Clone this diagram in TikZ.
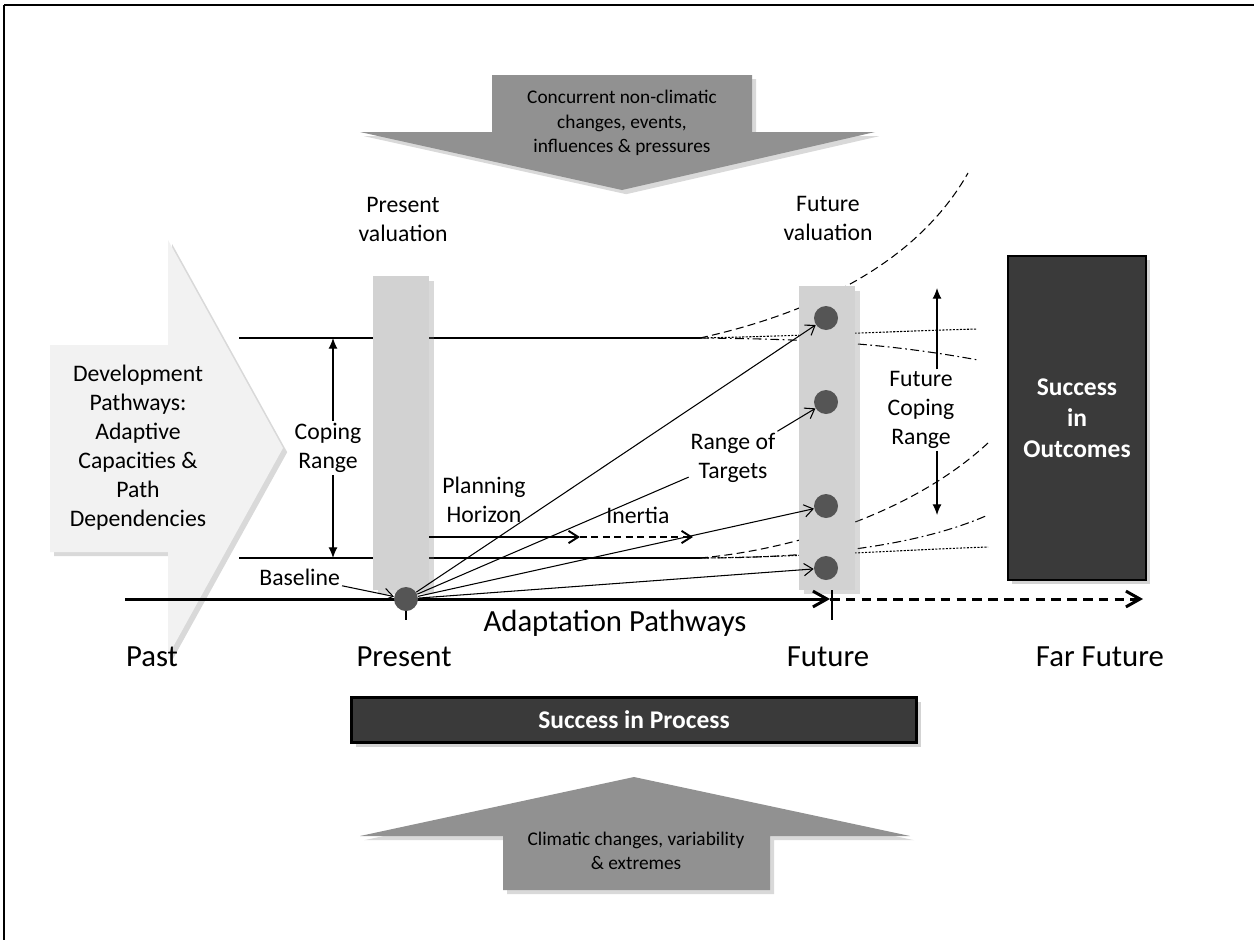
\documentclass[tikz,border=0pt]{standalone}
\usepackage{fontspec}
\setmainfont{Carlito}
\usepackage{tikz}
\usetikzlibrary{arrows.meta,positioning,shadows}

\definecolor{pastfill}{RGB}{242,242,242}
\definecolor{barfill}{RGB}{210,210,210}
\definecolor{blockfill}{RGB}{145,145,145}
\definecolor{dotfill}{RGB}{85,85,85}
\definecolor{boxfill}{RGB}{58,58,58}

\begin{document}
\begin{tikzpicture}[
    x=0.02cm, y=-0.02cm,
    lbl/.style={align=center, inner sep=1pt, font=\fontsize{13.5}{16.5}\selectfont},
    axislbl/.style={inner sep=1pt, font=\fontsize{17.5}{21}\selectfont},
    blocklbl/.style={align=center, inner sep=1pt, font=\fontsize{11}{14}\selectfont},
    darkbox/.style={draw=black, line width=1.6pt, fill=boxfill, text=white, align=center, font=\bfseries\fontsize{14.5}{17.5}\selectfont, drop shadow={opacity=0.35}},
    valbar/.style={rectangle, fill=barfill, inner sep=0pt, anchor=north west, minimum width=1.12cm, drop shadow={opacity=0.3}},
    target/.style={circle, fill=dotfill, inner sep=0pt, minimum size=0.48cm},
    blockarrow/.style={fill=blockfill, drop shadow={opacity=0.3}},
    thinarrow/.style={-{Straight Barb[length=5pt,width=7pt]}, line width=0.6pt},
    rangearrow/.style={-{Latex[length=6pt,width=5pt]}, line width=0.6pt},
    timearrow/.style={-{Straight Barb[length=8pt,width=9pt]}, line width=1.7pt},
    planarrow/.style={-{Straight Barb[length=5.5pt,width=7pt]}, line width=1.1pt},
    trend/.style={line width=0.6pt, dash pattern=on 4.5pt off 2.5pt},
    trenddot/.style={line width=0.6pt, dash pattern=on 1.2pt off 0.8pt},
    trenddash/.style={line width=0.6pt, dash pattern=on 5pt off 2pt on 1pt off 2pt}
]
\useasboundingbox (0,0) rectangle (1257,940);
\draw[line width=1.7pt] (4,5) -- (1254,5);
\draw[line width=1pt] (4,5) -- (4,940);

\fill[pastfill, drop shadow={opacity=0.3}] (50,345) -- (168,345) -- (168,240) -- (283,448) -- (168,656) -- (168,552) -- (50,552) -- cycle;
\node[lbl] (dev) at (138,448) {Development\\Pathways:\\Adaptive\\Capacities \&\\Path\\Dependencies};

\coordinate (cuL) at (239,338);
\coordinate (cuR) at (700,338);
\coordinate (clL) at (239,558);
\coordinate (clR) at (700,558);
\draw[line width=0.6pt] (cuL) -- (cuR);
\draw[line width=0.6pt] (clL) -- (clR);
\draw[trend] (cuR) .. controls (790,318) and (910,275) .. (968,173);
\draw[trenddot] (cuR) .. controls (800,336) and (900,331) .. (977,329);
\draw[trenddash] (cuR) .. controls (800,339) and (880,342) .. (978,360);
\draw[trend] (clR) .. controls (790,550) and (910,515) .. (988,443);
\draw[trenddash] (clR) .. controls (820,558) and (920,545) .. (988,515);
\draw[trenddot] (clR) .. controls (800,557) and (900,550) .. (988,547);

\node[valbar, minimum height=6.28cm] (pbar) at (373,276) {};
\node[valbar, minimum height=6.08cm] (fbar) at (799,286) {};

\fill[blockarrow] (492,75) -- (752,75) -- (752,132) -- (875,132) -- (622,190) -- (360,132) -- (492,132) -- cycle;
\node[blocklbl] (nonclim) at (622,123) {Concurrent non-climatic\\changes, events,\\influences \& pressures};
\fill[blockarrow] (503,890) -- (770,890) -- (770,836) -- (910,836) -- (634,777) -- (360,836) -- (503,836) -- cycle;
\node[blocklbl] (clim) at (636,851) {Climatic changes, variability\\\& extremes};

\node[lbl] (pval) at (403,219) {Present\\valuation};
\node[lbl] (fval) at (828,218) {Future\\valuation};

\node[lbl] (cope) at (328,448) {Coping\\Range};
\coordinate (cTop) at (333,338);
\coordinate (cBot) at (333,558);
\draw[rangearrow] (cope.north -| cTop) -- (cTop);
\draw[rangearrow] (cope.south -| cBot) -- (cBot);

\node[lbl] (fcope) at (921,410) {Future\\Coping\\Range};
\coordinate (fcTop) at (937,288);
\coordinate (fcBot) at (937,515);
\draw[rangearrow] (fcope.north -| fcTop) -- (fcTop);
\draw[rangearrow] (fcope.south -| fcBot) -- (fcBot);

\node[lbl] (plan) at (484,500) {Planning\\Horizon};
\node[lbl] (inert) at (638,515) {Inertia};
\coordinate (ph0) at (429,537);
\coordinate (ph1) at (580,537);
\coordinate (ph2) at (693,537);
\draw[planarrow] (ph0) -- (ph1);
\draw[planarrow, dash pattern=on 4pt off 2.5pt] (ph1) -- (ph2);

\coordinate (tpast) at (125,599);
\coordinate (tnow) at (406,599);
\coordinate (tfut) at (830,599);
\coordinate (tfar) at (1143,599);
\draw[timearrow] (tpast) -- (tfut);
\draw[timearrow, dash pattern=on 5.5pt off 3.5pt] (tfut) -- (tfar);
\draw[line width=0.6pt] (tnow) -- ++(0,21);
\draw[line width=0.6pt] (832,590) -- (832,620);

\node[target] (pdot) at (tnow) {};
\node[target] (t1) at (826,318) {};
\node[target] (t2) at (826,402) {};
\node[target] (t3) at (826,506) {};
\node[target] (t4) at (826,568) {};
\node[lbl] (rot) at (733,458) {Range of\\Targets};

\draw[thinarrow] (pdot) -- (t1);
\draw[line width=0.6pt] (pdot) -- (rot);
\draw[thinarrow] (rot) -- (t2);
\draw[thinarrow] (pdot) -- (t3);
\draw[thinarrow] (pdot) -- (t4);

\node[lbl, anchor=east] (base) at (342,577) {Baseline};
\draw[thinarrow] (base) -- (pdot);

\node[axislbl] (adapt) at (615,623) {Adaptation Pathways};
\node[axislbl] (past) at (152,657) {Past};
\node[axislbl] (pres) at (404,657) {Present};
\node[axislbl] (fut) at (828,657) {Future};
\node[axislbl] (far) at (1100,657) {Far Future};

\node[darkbox, minimum width=2.76cm, minimum height=6.48cm] (outc) at (1077,418) {Success\\in\\Outcomes};
\node[darkbox, minimum width=11.3cm, minimum height=0.9cm] (proc) at (634,720) {Success in Process};
\end{tikzpicture}
\end{document}
